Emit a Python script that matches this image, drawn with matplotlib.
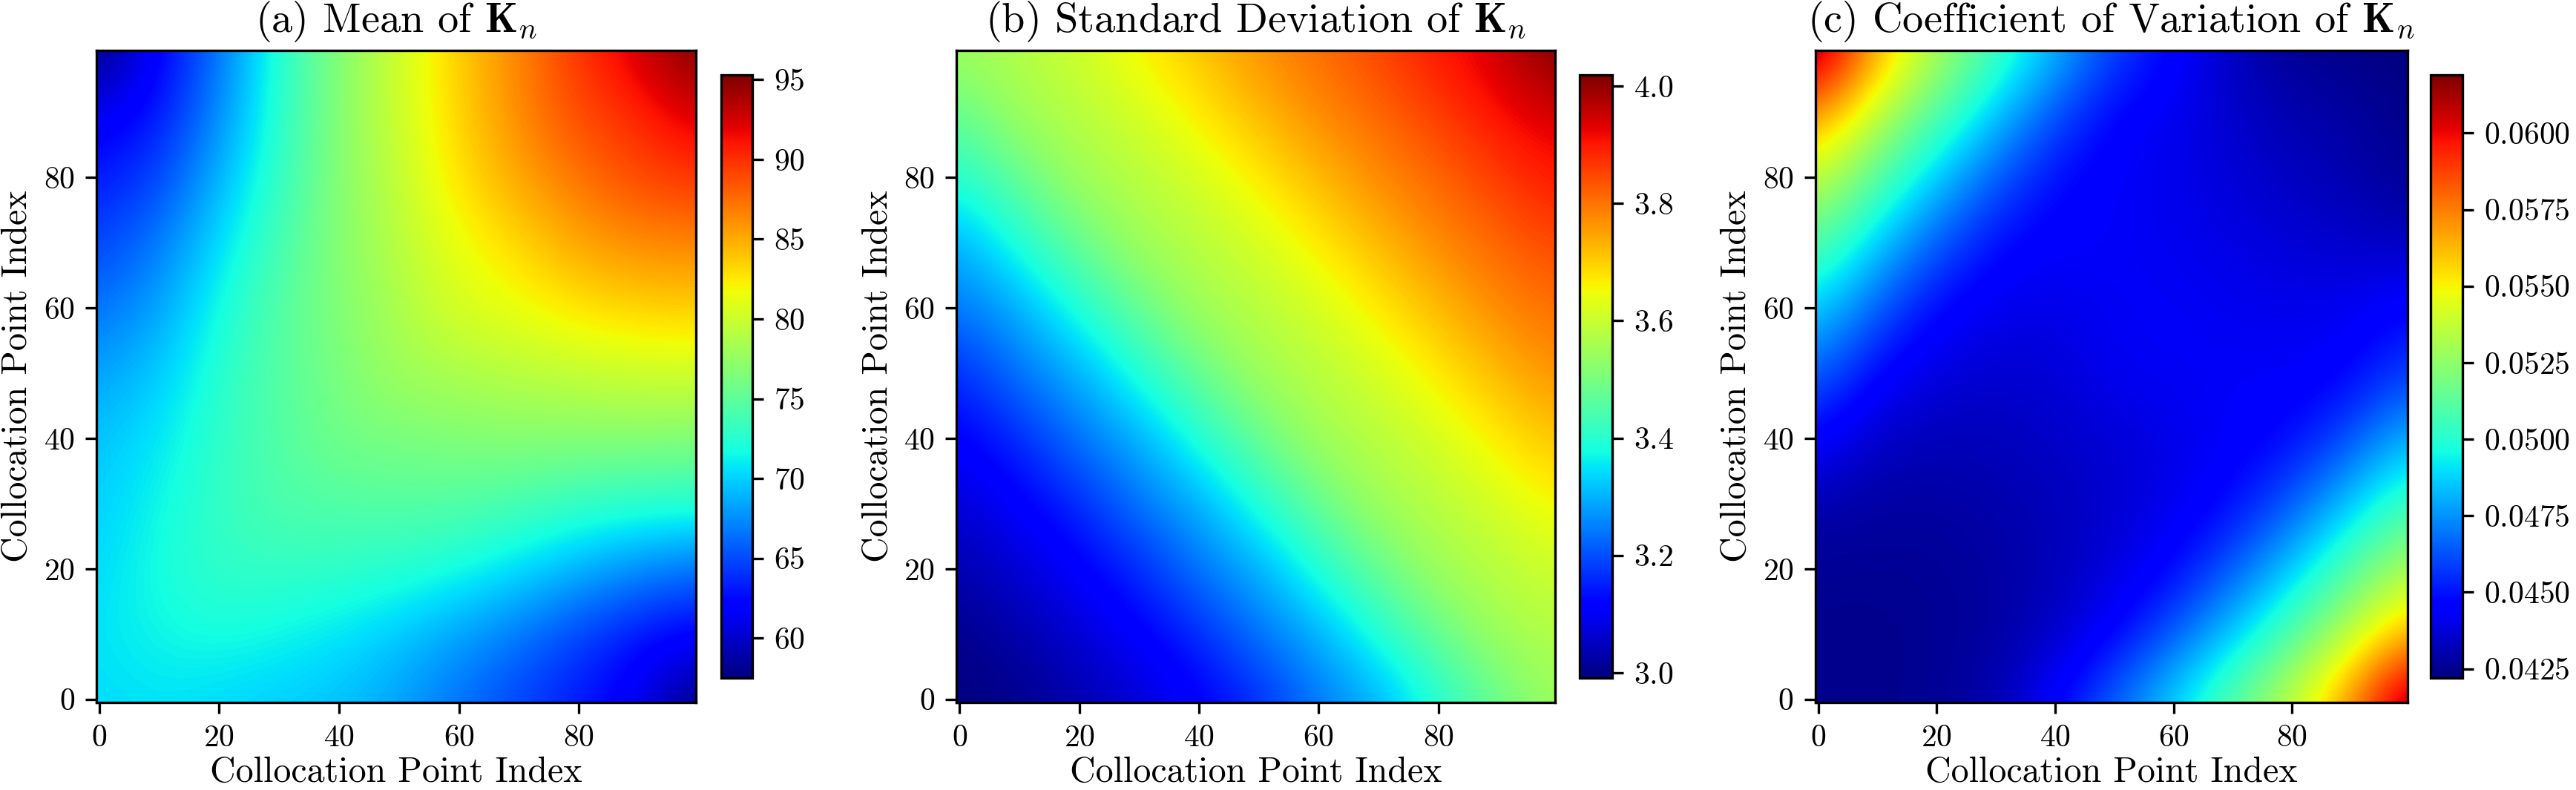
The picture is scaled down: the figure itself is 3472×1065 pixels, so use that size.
import numpy as np
import matplotlib
matplotlib.use("Agg")
import matplotlib.pyplot as plt

plt.rcParams['font.family'] = 'serif'
plt.rcParams['font.serif'] = ['cmr10']
plt.rcParams['mathtext.fontset'] = 'cm'
plt.rcParams['axes.formatter.use_mathtext'] = True

idx = [0, 10, 20, 30, 40, 50, 60, 70, 80, 90, 99]

# mean of K_n, rows = y index (bottom to top), cols = x index
mean_k = [
    [70.4, 70.7, 70.3, 69.9, 69.5, 68.3, 66.5, 64.8, 63.2, 61.5, 57.5],
    [70.7, 71.5, 71.9, 71.5, 70.8, 69.8, 68.3, 66.8, 64.8, 63.0, 62.0],
    [70.3, 71.9, 73.0, 73.0, 72.9, 72.5, 71.8, 70.5, 69.0, 67.5, 66.3],
    [69.9, 71.5, 73.0, 74.3, 74.4, 74.6, 74.5, 73.9, 73.0, 72.5, 72.4],
    [69.5, 70.8, 72.9, 74.4, 76.0, 76.2, 76.6, 76.8, 76.8, 76.8, 76.6],
    [68.3, 69.8, 72.5, 74.6, 76.2, 78.0, 78.4, 79.0, 79.4, 79.9, 80.0],
    [66.5, 68.3, 71.8, 74.5, 76.6, 78.4, 80.6, 81.3, 82.6, 83.2, 83.5],
    [64.8, 66.8, 70.5, 73.9, 76.8, 79.0, 81.3, 83.0, 85.0, 86.1, 86.4],
    [63.2, 64.8, 69.0, 73.0, 76.8, 79.4, 82.6, 85.0, 87.0, 88.8, 89.6],
    [61.5, 63.0, 67.5, 72.5, 76.8, 79.9, 83.2, 86.1, 88.8, 90.0, 92.3],
    [57.5, 62.0, 66.3, 72.4, 76.6, 80.0, 83.5, 86.4, 89.6, 92.3, 95.3],
]

# standard deviation of K_n
std_k = [
    [2.991, 3.002, 3.031, 3.066, 3.110, 3.155, 3.236, 3.290, 3.385, 3.470, 3.548],
    [3.002, 3.031, 3.066, 3.110, 3.155, 3.236, 3.290, 3.385, 3.470, 3.551, 3.572],
    [3.031, 3.066, 3.110, 3.155, 3.236, 3.290, 3.385, 3.470, 3.551, 3.575, 3.605],
    [3.066, 3.110, 3.155, 3.236, 3.290, 3.385, 3.470, 3.551, 3.575, 3.610, 3.659],
    [3.110, 3.155, 3.236, 3.290, 3.385, 3.470, 3.551, 3.575, 3.610, 3.664, 3.709],
    [3.155, 3.236, 3.290, 3.385, 3.470, 3.551, 3.575, 3.610, 3.664, 3.715, 3.765],
    [3.236, 3.290, 3.385, 3.470, 3.551, 3.575, 3.610, 3.664, 3.715, 3.769, 3.805],
    [3.290, 3.385, 3.470, 3.551, 3.575, 3.610, 3.664, 3.715, 3.769, 3.809, 3.844],
    [3.385, 3.470, 3.551, 3.575, 3.610, 3.664, 3.715, 3.769, 3.809, 3.850, 3.900],
    [3.470, 3.551, 3.575, 3.610, 3.664, 3.715, 3.769, 3.809, 3.850, 3.904, 3.937],
    [3.548, 3.572, 3.605, 3.659, 3.709, 3.765, 3.805, 3.844, 3.900, 3.937, 4.019],
]

# coefficient of variation of K_n
cv_k = [
    [.04250, .04244, .04259, .04299, .04456, .04653, .04870, .05107, .05363, .05678, .06190],
    [.04244, .04244, .04255, .04279, .04338, .04456, .04634, .04850, .05087, .05343, .05638],
    [.04259, .04255, .04259, .04279, .04319, .04378, .04466, .04634, .04850, .05087, .05323],
    [.04299, .04279, .04279, .04299, .04319, .04358, .04407, .04476, .04634, .04850, .05067],
    [.04456, .04338, .04319, .04319, .04348, .04368, .04397, .04437, .04476, .04614, .04831],
    [.04653, .04456, .04378, .04358, .04368, .04417, .04427, .04437, .04437, .04456, .04594],
    [.04870, .04634, .04466, .04407, .04397, .04427, .04437, .04417, .04407, .04417, .04476],
    [.05107, .04850, .04634, .04476, .04437, .04437, .04417, .04397, .04378, .04358, .04338],
    [.05363, .05087, .04850, .04634, .04476, .04437, .04407, .04378, .04338, .04309, .04259],
    [.05678, .05343, .05087, .04850, .04614, .04456, .04417, .04358, .04309, .04289, .04240],
    [.06190, .05638, .05323, .05067, .04831, .04594, .04476, .04338, .04259, .04240, .04220],
]

titles = [r'(a) Mean of $\mathbf{K}_n$',
          r'(b) Standard Deviation of $\mathbf{K}_n$',
          r'(c) Coefficient of Variation of $\mathbf{K}_n$']
fields = [np.array(mean_k), np.array(std_k), np.array(cv_k)]

# read points are (nearly) evenly spaced over 0..99
step = (idx[-1] - idx[0]) / (len(idx) - 1)
ext = (idx[0] - step / 2, idx[-1] + step / 2, idx[0] - step / 2, idx[-1] + step / 2)

fig = plt.figure(figsize=(3472 / 300, 1065 / 300), dpi=300)

ax_boxes = [[0.0374, 0.1108, 0.2327, 0.8254],
            [0.3713, 0.1108, 0.2324, 0.8254],
            [0.7047, 0.1108, 0.2299, 0.8254]]
cb_boxes = [[0.2799, 0.1418, 0.0122, 0.7634],
            [0.6132, 0.1418, 0.0126, 0.7634],
            [0.9435, 0.1418, 0.0124, 0.7634]]

for k in range(3):
    ax = fig.add_axes(ax_boxes[k])
    im = ax.imshow(fields[k], cmap='jet', origin='lower', extent=ext,
                   aspect='auto', interpolation='bicubic',
                   vmin=fields[k].min(), vmax=fields[k].max())
    ax.set_xlim(-0.5, 99.5)
    ax.set_ylim(-0.5, 99.5)
    ax.set_xticks([0, 20, 40, 60, 80])
    ax.set_yticks([0, 20, 40, 60, 80])
    ax.tick_params(labelsize=10)
    ax.set_xlabel('Collocation Point Index', fontsize=11.5, labelpad=1.5)
    ax.set_ylabel('Collocation Point Index', fontsize=11.5, labelpad=3)
    ax.set_title(titles[k], fontsize=13.5)
    cax = fig.add_axes(cb_boxes[k])
    cb = fig.colorbar(im, cax=cax)
    cb.ax.tick_params(labelsize=10)

fig.savefig('out.png', dpi=300)
